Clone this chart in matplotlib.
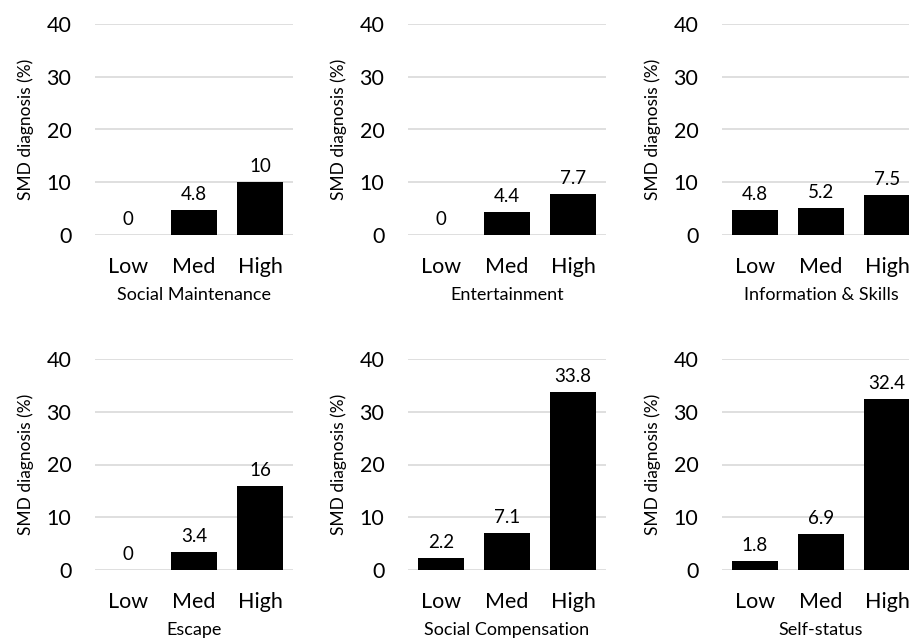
import matplotlib.pyplot as plt

plt.rcParams['font.family'] = ['Lato', 'DejaVu Sans']

levels = ["Low", "Med", "High"]
titles = ["Social Maintenance", "Entertainment", "Information & Skills",
          "Escape", "Social Compensation", "Self-status"]
social_maintenance = [0, 4.8, 10]
entertainment = [0, 4.4, 7.7]
information_skills = [4.8, 5.2, 7.5]
escape = [0, 3.4, 16]
social_compensation = [2.2, 7.1, 33.8]
self_status = [1.8, 6.9, 32.4]
all_values = [social_maintenance, entertainment, information_skills,
              escape, social_compensation, self_status]

W, H = 909, 644
fig = plt.figure(figsize=(W / 100, H / 100), dpi=100)

# panel boxes in pixels: left edge per column, top/bottom per row
col_left = [95, 408, 722]
row_top = [24, 359]
panel_w, panel_h = 198, 211

for i, (title, vals) in enumerate(zip(titles, all_values)):
    r, c = divmod(i, 3)
    left = col_left[c] / W
    bottom = 1 - (row_top[r] + panel_h) / H
    ax = fig.add_axes([left, bottom, panel_w / W, panel_h / H])
    x = range(len(levels))
    bars = ax.bar(x, vals, width=0.71, color="black", zorder=3)
    for b, v in zip(bars, vals):
        ax.annotate(f"{v:g}", (b.get_x() + b.get_width() / 2, v),
                    xytext=(0, 5), textcoords="offset points",
                    ha="center", va="bottom", fontsize=13.5)
    ax.set_ylim(0, 40)
    ax.set_xlim(-0.5, 2.5)
    ax.set_yticks([0, 10, 20, 30, 40])
    ax.set_xticks(list(x))
    ax.set_xticklabels(levels)
    ax.tick_params(axis="y", length=0, pad=17, labelsize=15.5)
    ax.tick_params(axis="x", length=0, pad=16, labelsize=15.5)
    ax.yaxis.grid(True, color="#d9d9d9", linewidth=1.2, zorder=0)
    for s in ax.spines.values():
        s.set_visible(False)
    ax.set_ylabel("SMD diagnosis (%)", fontsize=12.5, labelpad=9)
    ax.set_xlabel(title, fontsize=13, labelpad=7)

fig.savefig("out.png", dpi=100)
